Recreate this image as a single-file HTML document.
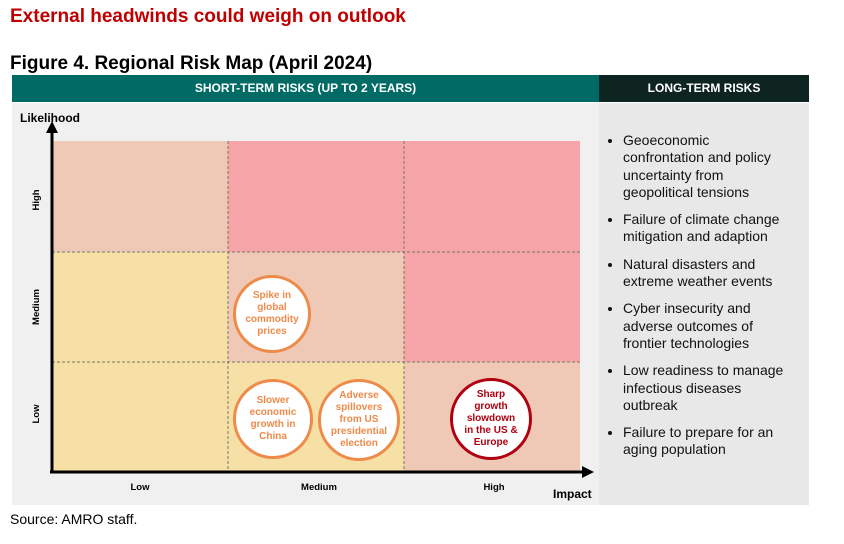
<!DOCTYPE html><html><head><style>
body{margin:0;width:844px;height:544px;background:#fff;font-family:"Liberation Sans",sans-serif;position:relative;overflow:hidden}
.a{position:absolute}
.c{position:absolute;border-radius:50%;background:#fff;border:3px solid #ee8a4a;color:#ee8a4a;font-weight:bold;font-size:10px;text-align:center;display:flex;align-items:center;justify-content:center;line-height:12px;box-sizing:border-box}
li{margin-bottom:10px}
</style></head><body>
<div class="a" style="left:10px;top:6px;color:#c00000;font-size:19px;font-weight:bold">External headwinds could weigh on outlook</div>
<div class="a" style="left:10px;top:53px;font-size:19px;font-weight:bold;color:#000">Figure 4. Regional Risk Map (April 2024)</div>
<div class="a" style="left:12px;top:75px;width:587px;height:27px;background:#006a65;color:#fff;font-size:12px;font-weight:bold;text-align:center;line-height:27px">SHORT-TERM RISKS (UP TO 2 YEARS)</div>
<div class="a" style="left:599px;top:75px;width:210px;height:27px;background:#0e2420;color:#fff;font-size:12px;font-weight:bold;text-align:center;line-height:27px">LONG-TERM RISKS</div>
<div class="a" style="left:12px;top:103px;width:587px;height:402px;background:#f0f0f0"></div>
<div class="a" style="left:599px;top:103px;width:210px;height:402px;background:#e8e8e8"></div>
<div class="a" style="left:20px;top:111px;font-size:12px;font-weight:bold">Likelihood</div>
<svg class="a" style="left:0;top:0" width="844" height="544">
<rect x="52" y="141" width="176" height="111" fill="#f0c8b6"/>
<rect x="228" y="141" width="352" height="111" fill="#f5a5a8"/>
<rect x="52" y="252" width="176" height="110" fill="#f6e0a6"/>
<rect x="228" y="252" width="176" height="110" fill="#f0c8b6"/>
<rect x="404" y="252" width="176" height="110" fill="#f5a5a8"/>
<rect x="52" y="362" width="352" height="111" fill="#f6e0a6"/>
<rect x="404" y="362" width="176" height="111" fill="#f0c8b6"/>
<g stroke="#776" stroke-dasharray="3,2" stroke-width="1">
<line x1="228" y1="141" x2="228" y2="473"/><line x1="404" y1="141" x2="404" y2="473"/>
<line x1="52" y1="252" x2="580" y2="252"/><line x1="52" y1="362" x2="580" y2="362"/></g>
<line x1="52" y1="131" x2="52" y2="473" stroke="#000" stroke-width="3"/>
<polygon points="52,121 46,133 58,133" fill="#000"/>
<line x1="50" y1="472" x2="584" y2="472" stroke="#000" stroke-width="3"/>
<polygon points="594,472 582,466 582,478" fill="#000"/>
<g font-size="9.5" font-weight="bold" font-family="Liberation Sans">
<text transform="translate(39,200) rotate(-90)" text-anchor="middle">High</text>
<text transform="translate(39,307) rotate(-90)" text-anchor="middle">Medium</text>
<text transform="translate(39,414) rotate(-90)" text-anchor="middle">Low</text>
<text x="140" y="490" text-anchor="middle">Low</text>
<text x="319" y="490" text-anchor="middle">Medium</text>
<text x="494" y="490" text-anchor="middle">High</text>
</g>
<text x="553" y="498" font-size="12" font-weight="bold">Impact</text>
</svg>
<div class="c" style="left:233px;top:275px;width:78px;height:78px">Spike in<br>global<br>commodity<br>prices</div>
<div class="c" style="left:233px;top:379px;width:80px;height:80px">Slower<br>economic<br>growth in<br>China</div>
<div class="c" style="left:318px;top:379px;width:82px;height:82px">Adverse<br>spillovers<br>from US<br>presidential<br>election</div>
<div class="c" style="left:450px;top:378px;width:82px;height:82px;border-color:#b00010;color:#b00010">Sharp<br>growth<br>slowdown<br>in the US &amp;<br>Europe</div>
<ul class="a" style="left:599px;top:132px;margin:0;padding-left:24px;width:166px;font-size:14px;line-height:17.3px;color:#111">
<li>Geoeconomic confrontation and policy uncertainty from geopolitical tensions</li>
<li>Failure of climate change mitigation and adaption</li>
<li>Natural disasters and extreme weather events</li>
<li>Cyber insecurity and adverse outcomes of frontier technologies</li>
<li>Low readiness to manage infectious diseases outbreak</li>
<li>Failure to prepare for an aging population</li>
</ul>
<div class="a" style="left:10px;top:511px;font-size:14px">Source: AMRO staff.</div>
</body></html>
